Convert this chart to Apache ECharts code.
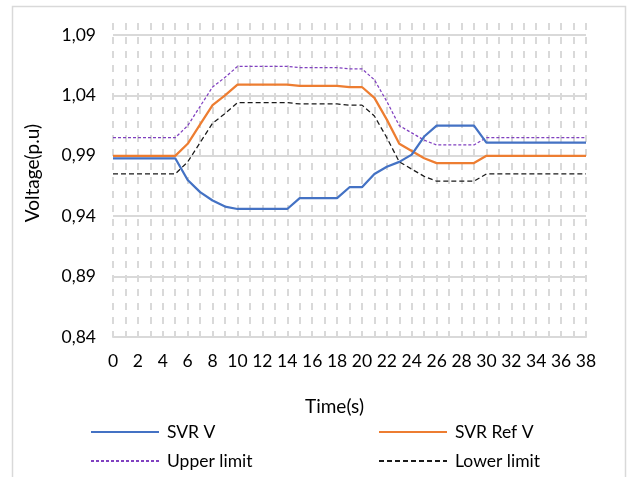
<!DOCTYPE html>
<html><head><meta charset="utf-8">
<script src="https://cdn.jsdelivr.net/npm/echarts@6/dist/echarts.min.js"></script>
<style>html,body{margin:0;padding:0;background:#fff}#c{width:627px;height:477px}</style>
</head><body><div id="c"></div>
<script>
const times = ['0','1','2','3','4','5','6','7','8','9','10','11','12','13','14','15','16','17','18','19','20','21','22','23','24','25','26','27','28','29','30','31','32','33','34','35','36','37','38'];
const svrV = [0.988,0.988,0.988,0.988,0.988,0.988,0.970,0.960,0.953,0.948,0.946,0.946,0.946,0.946,0.946,0.955,0.955,0.955,0.955,0.964,0.964,0.975,0.981,0.985,0.991,1.006,1.015,1.015,1.015,1.015,1.001,1.001,1.001,1.001,1.001,1.001,1.001,1.001,1.001];
const svrRefV = [0.990,0.990,0.990,0.990,0.990,0.990,1.000,1.016,1.032,1.040,1.049,1.049,1.049,1.049,1.049,1.048,1.048,1.048,1.048,1.047,1.047,1.038,1.020,1.000,0.994,0.988,0.984,0.984,0.984,0.984,0.990,0.990,0.990,0.990,0.990,0.990,0.990,0.990,0.990];
const upperLimit = [1.005,1.005,1.005,1.005,1.005,1.005,1.015,1.031,1.047,1.055,1.064,1.064,1.064,1.064,1.064,1.063,1.063,1.063,1.063,1.062,1.062,1.053,1.035,1.015,1.009,1.003,0.999,0.999,0.999,0.999,1.005,1.005,1.005,1.005,1.005,1.005,1.005,1.005,1.005];
const lowerLimit = [0.975,0.975,0.975,0.975,0.975,0.975,0.985,1.001,1.017,1.025,1.034,1.034,1.034,1.034,1.034,1.033,1.033,1.033,1.033,1.032,1.032,1.023,1.005,0.985,0.979,0.973,0.969,0.969,0.969,0.969,0.975,0.975,0.975,0.975,0.975,0.975,0.975,0.975,0.975];
const seriesNames = ['SVR V','SVR Ref V','Upper limit','Lower limit'];

const FONT = 'Lato';
const FS = 17.5;
const chart = echarts.init(document.getElementById('c'), null, {renderer:'canvas'});
function legendAt(name, left, top){
  return {data:[name], left:left, top:top, padding:0, itemWidth:68, itemHeight:20,
    itemStyle:{opacity:0, borderWidth:0},
    textStyle:{fontFamily:FONT, fontSize:FS, color:'#000', padding:[0,0,0,3]}, selectedMode:false};
}
chart.setOption({
  animation:false,
  backgroundColor:'#fff',
  textStyle:{fontFamily:FONT},
  graphic:[{type:'rect', shape:{x:12.5, y:6.5, width:613, height:500}, style:{fill:'none', stroke:'#d9d9d9', lineWidth:1.5}, silent:true}],
  grid:{left:113, right:41, top:23, bottom:140, containLabel:false},
  legend:[
    legendAt(seriesNames[0], 90, 423),
    legendAt(seriesNames[1], 378, 423),
    legendAt(seriesNames[2], 90, 452),
    legendAt(seriesNames[3], 378, 452)
  ],
  xAxis:{type:'category', data:times, boundaryGap:false,
    name:'Time(s)', nameLocation:'middle', nameGap:60,
    nameTextStyle:{fontFamily:FONT, fontSize:19, color:'#000', padding:[0,30,0,0]},
    axisLine:{show:true, lineStyle:{color:'#d9d9d9', width:2}},
    axisTick:{show:false},
    axisLabel:{interval:1, margin:15, fontFamily:FONT, fontSize:FS, color:'#000'},
    splitLine:{show:true, interval:0, lineStyle:{color:'#d9d9d9', width:2, type:[7,7]}}
  },
  yAxis:{type:'value', min:0.84, max:1.10, interval:0.05,
    name:'Voltage(p.u)', nameLocation:'middle', nameGap:71,
    nameTextStyle:{fontFamily:FONT, fontSize:19, color:'#000', padding:[0,0,0,14]},
    axisLine:{show:false}, axisTick:{show:false},
    axisLabel:{margin:17, fontFamily:FONT, fontSize:FS, color:'#000', showMaxLabel:false,
      formatter:function(v){ return (Math.round(v*100)/100).toFixed(2).replace('.', ','); }},
    splitLine:{show:true, showMaxLine:false, showMinLine:false, lineStyle:{color:'#d9d9d9', width:2}}
  },
  series:[
    {name:seriesNames[0], type:'line', data:svrV, symbol:'none', color:'#4472C4', lineStyle:{color:'#4472C4', width:2.25}, z:4},
    {name:seriesNames[1], type:'line', data:svrRefV, symbol:'none', color:'#ED7D31', lineStyle:{color:'#ED7D31', width:2.25}, z:3},
    {name:seriesNames[2], type:'line', data:upperLimit, symbol:'none', color:'#8040C0', lineStyle:{color:'#8040C0', width:1.25, type:[3,2]}, z:2},
    {name:seriesNames[3], type:'line', data:lowerLimit, symbol:'none', color:'#1a1a1a', lineStyle:{color:'#1a1a1a', width:1.25, type:[5,3]}, z:2}
  ]
});
</script></body></html>
